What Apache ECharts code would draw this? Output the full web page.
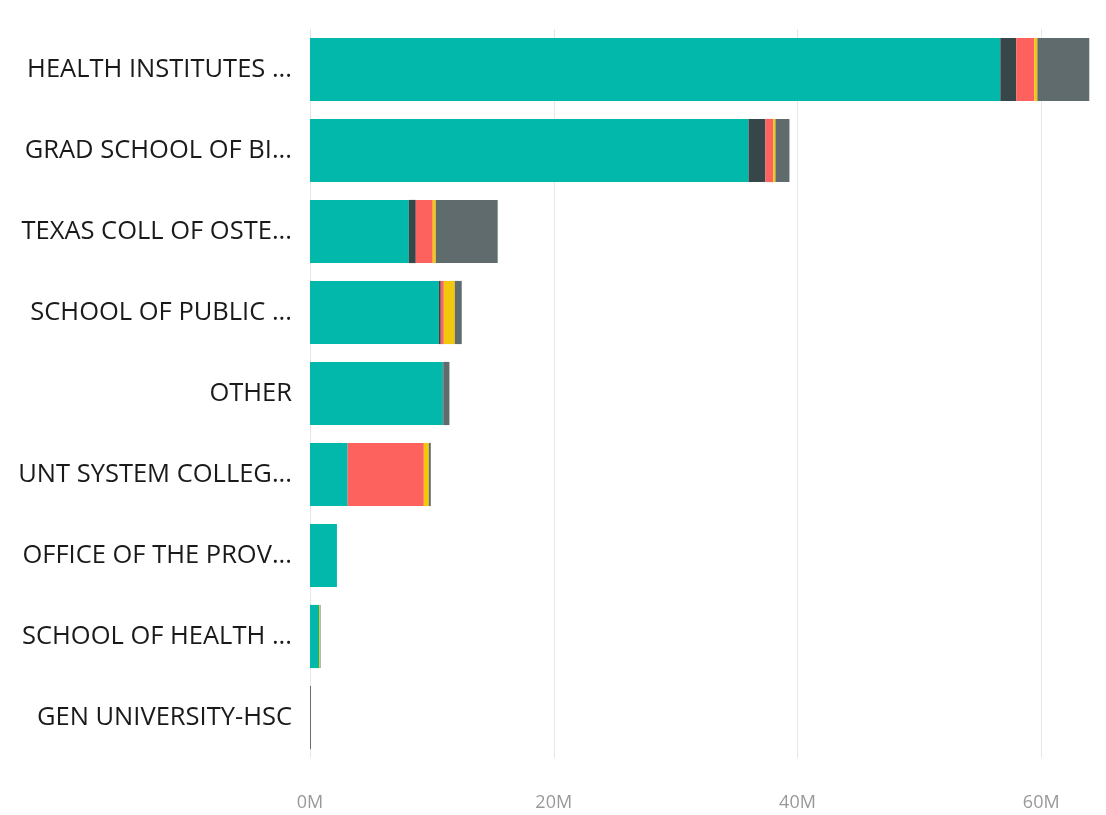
<!DOCTYPE html>
<html>
<head>
<meta charset="utf-8">
<script src="https://cdn.jsdelivr.net/npm/echarts@6/dist/echarts.min.js"></script>
<style>
  html, body { margin: 0; padding: 0; background: #fff; }
  #bar { width: 1106px; height: 815px; }
</style>
</head>
<body>
<div id="bar"></div>
<script>
// categories, top to bottom
var categories = ['HEALTH INSTITUTES ...', 'GRAD SCHOOL OF BI...', 'TEXAS COLL OF OSTE...',
    'SCHOOL OF PUBLIC ...', 'OTHER', 'UNT SYSTEM COLLEG...', 'OFFICE OF THE PROV...',
    'SCHOOL OF HEALTH ...', 'GEN UNIVERSITY-HSC'];

// values in millions, same order as categories
var seriesA = [56.64, 35.98, 8.11, 10.57, 10.90, 3.09, 2.21, 0.74, 0];
var seriesB = [1.31, 1.39, 0.57, 0.16, 0.05, 0, 0, 0, 0];
var seriesC = [1.48, 0.63, 1.39, 0.25, 0, 6.25, 0, 0, 0];
var seriesD = [0.25, 0.19, 0.25, 0.90, 0, 0.41, 0, 0.08, 0];
var seriesE = [4.26, 1.15, 5.08, 0.57, 0.49, 0.16, 0, 0.04, 0.08];

var tickLabels = ['0M', '20M', '40M', '60M'];

var chart = echarts.init(document.getElementById('bar'));

function makeSeries(name, data, color) {
    return {
        name : name,
        type : 'bar',
        stack : 'total',
        barCategoryGap : '22%',
        itemStyle : { color : color },
        data : data
    };
}

var option = {
    animation : false,
    grid : {
        left : 310,
        right : 16,
        top : 29,
        bottom : 57
    },
    xAxis : {
        type : 'value',
        min : 0,
        max : 64,
        interval : 20,
        axisLine : { show : false },
        axisTick : { show : false },
        axisLabel : {
            margin : 36,
            color : '#999999',
            fontSize : 18,
            fontFamily : 'Open Sans',
            formatter : function (v) {
                return v % 20 === 0 ? tickLabels[v / 20] : '';
            }
        },
        splitLine : {
            lineStyle : {
                color : ['#e6e6e6', '#e6e6e6', '#e6e6e6', '#e6e6e6', 'rgba(0,0,0,0)'],
                width : 1
            }
        }
    },
    yAxis : {
        type : 'category',
        inverse : true,
        data : categories,
        axisLine : { show : false },
        axisTick : { show : false },
        axisLabel : {
            margin : 18,
            color : '#1a1a1a',
            fontSize : 25.5,
            fontFamily : 'Open Sans',
            padding : [4, 0, 0, 0]
        }
    },
    series : [
        makeSeries('A', seriesA, '#01B8AA'),
        makeSeries('B', seriesB, '#374649'),
        makeSeries('C', seriesC, '#FD625E'),
        makeSeries('D', seriesD, '#F2C80F'),
        makeSeries('E', seriesE, '#5F6B6D')
    ]
};

chart.setOption(option);
</script>
</body>
</html>
